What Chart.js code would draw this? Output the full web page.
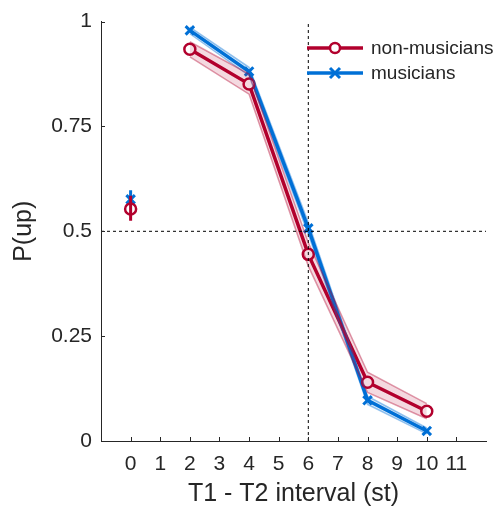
<!DOCTYPE html>
<html>
<head>
<meta charset="utf-8">
<script src="https://cdn.jsdelivr.net/npm/chart.js@4"></script>
<style>
  html, body { margin: 0; padding: 0; background: #fff; }
  #wrap { width: 498px; height: 507px; }
</style>
</head>
<body>
<div id="wrap"><canvas id="pitchChart" width="498" height="507"></canvas></div>
<script>
// intervals (st) and P(up)
const intervals = [2, 4, 6, 8, 10];
const nonMusicians = [0.934, 0.851, 0.445, 0.140, 0.071];
const nonMusiciansErr = [0.018, 0.024, 0.028, 0.024, 0.018];
const musicians = [0.979, 0.881, 0.507, 0.097, 0.024];
const musiciansErr = [0.008, 0.010, 0.014, 0.010, 0.007];

// the separate point at 0 st
const zeroNon = 0.553, zeroNonLo = 0.525, zeroNonHi = 0.585;
const zeroMus = 0.576, zeroMusLo = 0.553, zeroMusHi = 0.598;

const yTicks = [0, 0.25, 0.5, 0.75, 1];
const xTicks = [0, 1, 2, 3, 4, 5, 6, 7, 8, 9, 10, 11];

const RED = "rgb(178,0,45)";
const BLUE = "rgb(0,112,214)";
const FONT = "'Liberation Sans', Arial, sans-serif";

function pts(xs, ys) {
    return xs.map((x, i) => ({x: x, y: ys[i]}));
}
function band(ys, err, sign) {
    return pts(intervals, ys.map((v, i) => v + sign * err[i]));
}

const bandLine = (data, color, fillTo) => ({
    data: data,
    borderColor: color.replace("rgb", "rgba").replace(")", ",0.4)"),
    borderWidth: 1.5,
    backgroundColor: color.replace("rgb", "rgba").replace(")", ",0.15)"),
    pointRadius: 0,
    fill: fillTo,
    tension: 0
});

// inward tick marks + legend
const tickPlugin = {
    id: "inwardTicks",
    afterDatasetsDraw(chart) {
        const ctx = chart.ctx;
        const xs = chart.scales.x, ys = chart.scales.y;
        ctx.save();
        ctx.strokeStyle = "#262626";
        ctx.lineWidth = 1;
        ctx.beginPath();
        xTicks.forEach(v => {
            const px = Math.round(xs.getPixelForValue(v)) + 0.5;
            ctx.moveTo(px, ys.bottom);
            ctx.lineTo(px, ys.bottom - 4);
        });
        yTicks.forEach(v => {
            const py = Math.round(ys.getPixelForValue(v)) + 0.5;
            ctx.moveTo(xs.left, py);
            ctx.lineTo(xs.left + 4, py);
        });
        ctx.stroke();
        ctx.restore();
    },
    afterDraw(chart) {
        const ctx = chart.ctx;
        const items = [
            {label: "non-musicians", color: RED, marker: "circle"},
            {label: "musicians", color: BLUE, marker: "cross"}
        ];
        ctx.save();
        items.forEach((it, i) => {
            const y = 48 + i * 25;
            ctx.strokeStyle = it.color;
            ctx.lineWidth = 3.5;
            ctx.beginPath();
            ctx.moveTo(307, y);
            ctx.lineTo(363, y);
            ctx.stroke();
            const cx = 335;
            ctx.lineWidth = 2.5;
            if (it.marker === "circle") {
                ctx.fillStyle = "#fff";
                ctx.beginPath();
                ctx.arc(cx, y, 5, 0, Math.PI * 2);
                ctx.fill();
                ctx.stroke();
            } else {
                ctx.lineWidth = 3;
                ctx.beginPath();
                ctx.moveTo(cx - 5, y - 5); ctx.lineTo(cx + 5, y + 5);
                ctx.moveTo(cx + 5, y - 5); ctx.lineTo(cx - 5, y + 5);
                ctx.stroke();
            }
            ctx.fillStyle = "#262626";
            ctx.font = "19px " + FONT;
            ctx.textBaseline = "middle";
            ctx.fillText(it.label, 371, y + 1);
        });
        ctx.restore();
    }
};

new Chart("pitchChart", {
    type: "line",
    data: {
        datasets: [
            // dashed guides
            {data: [{x: 6, y: 0}, {x: 6, y: 1}], borderColor: "#000", borderWidth: 1, borderDash: [3, 3], pointRadius: 0},
            {data: [{x: -1, y: 0.5}, {x: 12, y: 0.5}], borderColor: "#000", borderWidth: 1, borderDash: [3, 3], pointRadius: 0},
            // bands
            bandLine(band(nonMusicians, nonMusiciansErr, 1), RED, false),
            bandLine(band(nonMusicians, nonMusiciansErr, -1), RED, "-1"),
            bandLine(band(musicians, musiciansErr, 1), BLUE, false),
            bandLine(band(musicians, musiciansErr, -1), BLUE, "-1"),
            // means
            {
                data: pts(intervals, nonMusicians),
                borderColor: RED, borderWidth: 3.5,
                pointStyle: "circle", pointRadius: 5.5, pointBorderWidth: 2.5,
                pointBackgroundColor: "#fff", pointBorderColor: RED
            },
            {
                data: pts(intervals, musicians),
                borderColor: BLUE, borderWidth: 3.5,
                pointStyle: "crossRot", pointRadius: 6, pointBorderWidth: 3,
                pointBorderColor: BLUE
            },
            // 0 st errorbars and points
            {data: [{x: 0, y: zeroNonLo}, {x: 0, y: zeroNonHi}], borderColor: RED, borderWidth: 3, pointRadius: 0},
            {
                data: [{x: 0, y: zeroNon}], borderColor: RED, showLine: false,
                pointStyle: "circle", pointRadius: 5.5, pointBorderWidth: 2.5,
                pointBackgroundColor: "#fff", pointBorderColor: RED
            },
            {data: [{x: 0, y: zeroMusLo}, {x: 0, y: zeroMusHi}], borderColor: BLUE, borderWidth: 3, pointRadius: 0},
            {
                data: [{x: 0, y: zeroMus}], borderColor: BLUE, showLine: false,
                pointStyle: "crossRot", pointRadius: 6, pointBorderWidth: 3, pointBorderColor: BLUE
            }
        ]
    },
    options: {
        responsive: false,
        animation: {duration: 0},
        layout: {padding: {top: 19, right: 12, left: 0, bottom: 0}},
        plugins: {legend: {display: false}, tooltip: {enabled: false}},
        elements: {line: {tension: 0}},
        scales: {
            x: {
                type: "linear", min: -1, max: 12,
                afterBuildTicks: s => { s.ticks = xTicks.map(v => ({value: v})); },
                afterFit: s => { s.height = 66; },
                grid: {display: true, drawOnChartArea: false, drawTicks: false},
                border: {display: true, color: "#262626", width: 1},
                ticks: {color: "#262626", padding: 11, font: {family: FONT, size: 21}, maxRotation: 0, autoSkip: false},
                title: {display: true, text: "T1 - T2 interval (st)", color: "#262626", font: {family: FONT, size: 25}, padding: {top: 0, bottom: -2}}
            },
            y: {
                type: "linear", min: 0, max: 1,
                afterBuildTicks: s => { s.ticks = yTicks.map(v => ({value: v})); },
                afterFit: s => { s.width = 101; },
                grid: {display: true, drawOnChartArea: false, drawTicks: false},
                border: {display: true, color: "#262626", width: 1},
                ticks: {color: "#262626", padding: 9, font: {family: FONT, size: 21}, callback: v => String(v)},
                title: {display: true, text: "P(up)", color: "#262626", font: {family: FONT, size: 25}, padding: {top: 9, bottom: 0}}
            }
        }
    },
    plugins: [tickPlugin]
});
</script>
</body>
</html>
